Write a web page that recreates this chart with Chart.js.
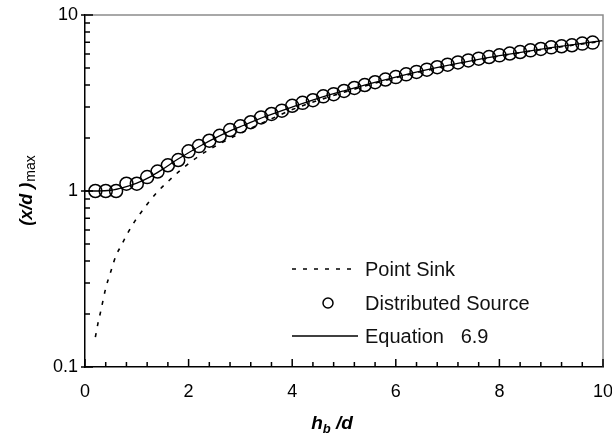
<!DOCTYPE html>
<html>
<head>
<meta charset="utf-8">
<script src="https://cdn.jsdelivr.net/npm/chart.js@4/dist/chart.umd.min.js"></script>
<style>
  html, body { margin:0; padding:0; background:#fff; }
  #wrap { width:612px; height:434px; }
</style>
</head>
<body>
<div id="wrap"><canvas id="chart" width="612" height="434"></canvas></div>
<script>
//-----------------Data
const xTicks = [0, 2, 4, 6, 8, 10]
const yTicks = [0.1, 1, 10]

// Point Sink (dotted)
const sinkX = [0.2, 0.25, 0.3, 0.4, 0.5, 0.6, 0.7, 0.8, 0.9, 1.0, 1.2, 1.4, 1.6, 1.8, 2.0, 2.2, 2.4, 2.8, 3.2, 3.6, 4.0, 5.0, 6.0, 7.0, 8.0, 9.0, 10.0]
const sinkY = [0.148, 0.177, 0.205, 0.28, 0.35, 0.43, 0.49, 0.56, 0.63, 0.70, 0.84, 0.99, 1.13, 1.28, 1.43, 1.58, 1.72, 1.99, 2.27, 2.57, 2.90, 3.64, 4.40, 5.14, 5.85, 6.48, 7.10]

// Distributed Source (open circles)
const srcX = [0.2, 0.4, 0.6, 0.8, 1.0, 1.2, 1.4, 1.6, 1.8, 2.0, 2.2, 2.4, 2.6, 2.8, 3.0, 3.2, 3.4, 3.6, 3.8, 4.0,
              4.2, 4.4, 4.6, 4.8, 5.0, 5.2, 5.4, 5.6, 5.8, 6.0, 6.2, 6.4, 6.6, 6.8, 7.0, 7.2, 7.4, 7.6, 7.8, 8.0,
              8.2, 8.4, 8.6, 8.8, 9.0, 9.2, 9.4, 9.6, 9.8]
const srcY = [1.00, 1.00, 1.00, 1.10, 1.10, 1.20, 1.29, 1.40, 1.50, 1.68, 1.80, 1.93, 2.06, 2.22, 2.33, 2.46, 2.62, 2.74, 2.86, 3.05,
              3.17, 3.28, 3.45, 3.55, 3.70, 3.85, 4.00, 4.15, 4.30, 4.44, 4.60, 4.75, 4.89, 5.05, 5.22, 5.38, 5.52, 5.65, 5.77, 5.90,
              6.04, 6.16, 6.30, 6.41, 6.55, 6.64, 6.73, 6.88, 6.97]

// Equation 6.9 (solid)
const eqX = [0, 0.25, 0.5, 0.75, 1.0, 1.25, 1.5, 1.75, 2.0, 2.25, 2.5, 2.75, 3.0, 3.5, 4.0, 4.5, 5.0, 5.5, 6.0, 6.5, 7.0, 7.5, 8.0, 8.5, 9.0, 9.5, 10]
const eqY = [1.00, 1.00, 1.01, 1.05, 1.11, 1.20, 1.33, 1.49, 1.65, 1.82, 1.99, 2.16, 2.32, 2.66, 3.00, 3.36, 3.71, 4.07, 4.44, 4.81, 5.17, 5.52, 5.87, 6.20, 6.52, 6.84, 7.15]

const legendLabels = ['Point Sink', 'Distributed Source', 'Equation   6.9']

function pts(xs, ys){
  return xs.map((x, i) => ({x: x, y: ys[i]}))
}

const FONT = '"Liberation Sans", Arial, sans-serif'

//-----------------Frame, inward ticks, titles, legend
const framePlugin = {
  id: 'frame',
  afterDraw(chart){
    const ctx = chart.ctx
    const a = chart.chartArea
    const xs = chart.scales.x
    const ys = chart.scales.y
    ctx.save()
    // grey top/right border
    ctx.strokeStyle = '#8c8c8c'
    ctx.lineWidth = 1.5
    ctx.beginPath()
    ctx.moveTo(a.left, a.top)
    ctx.lineTo(a.right, a.top)
    ctx.lineTo(a.right, a.bottom)
    ctx.stroke()

    // inward ticks
    ctx.strokeStyle = '#000'
    ctx.lineWidth = 1.5
    ctx.beginPath()
    for (let i = 0; i <= 25; i++){
      const px = xs.getPixelForValue(i * 0.4)
      const len = (i % 5 === 0) ? 8 : 5
      ctx.moveTo(px, a.bottom)
      ctx.lineTo(px, a.bottom - len)
    }
    for (let d = 0.1; d < 10; d *= 10){
      for (let k = 1; k <= 10; k++){
        const v = d * k
        if (v > 10.0001) continue
        const py = ys.getPixelForValue(v)
        const major = (k === 1 || k === 10)
        ctx.moveTo(a.left - (major ? 4 : 0), py)
        ctx.lineTo(a.left + (major ? 8 : 5), py)
      }
    }
    ctx.stroke()

    // y title: (x/d)max rotated
    ctx.fillStyle = '#000'
    ctx.textBaseline = 'alphabetic'
    const mainF = 'italic bold 18px ' + FONT
    const subF = '14px ' + FONT
    ctx.font = mainF
    const w1 = ctx.measureText('(x/d )').width
    ctx.font = subF
    const w2 = ctx.measureText('max').width
    ctx.translate(32, 191)
    ctx.rotate(-Math.PI / 2)
    const start = -(w1 + w2) / 2
    ctx.font = mainF
    ctx.textAlign = 'left'
    ctx.fillText('(x/d )', start, 0)
    ctx.font = subF
    ctx.fillText('max', start + w1 + 1, 3)
    ctx.setTransform(1, 0, 0, 1, 0, 0)

    // x title: h_b /d
    const hF = 'italic bold 19px ' + FONT
    const bF = 'italic bold 13px ' + FONT
    ctx.font = hF
    const wh = ctx.measureText('h').width
    const wd = ctx.measureText(' /d').width
    ctx.font = bF
    const wb = ctx.measureText('b').width
    let tx = 332 - (wh + wb + wd) / 2
    const ty = 429
    ctx.font = hF
    ctx.fillText('h', tx, ty)
    ctx.font = bF
    ctx.fillText('b', tx + wh, ty + 4)
    ctx.font = hF
    ctx.fillText(' /d', tx + wh + wb, ty)

    // legend
    ctx.font = '20px ' + FONT
    ctx.fillStyle = '#111'
    ctx.textBaseline = 'middle'
    ctx.textAlign = 'left'
    const rows = [269, 303, 336]
    ctx.strokeStyle = '#000'
    ctx.lineWidth = 1.5
    ctx.setLineDash([4, 7])
    ctx.beginPath()
    ctx.moveTo(292, rows[0])
    ctx.lineTo(356, rows[0])
    ctx.stroke()
    ctx.setLineDash([])
    ctx.beginPath()
    ctx.arc(328, rows[1], 5, 0, Math.PI * 2)
    ctx.stroke()
    ctx.beginPath()
    ctx.moveTo(292, rows[2])
    ctx.lineTo(358, rows[2])
    ctx.stroke()
    legendLabels.forEach((t, i) => ctx.fillText(t, 365, rows[i] + 1))
    ctx.restore()
  }
}

const ctx = document.getElementById('chart').getContext('2d')
const chart = new Chart(ctx, {
  type: 'scatter',
  data: {
    datasets: [
      {
        label: 'Distributed Source',
        data: pts(srcX, srcY),
        showLine: false,
        pointStyle: 'circle',
        pointRadius: 6.5,
        pointBorderWidth: 1.5,
        borderColor: '#000',
        backgroundColor: 'rgba(255,255,255,0)'
      },
      {
        label: 'Point Sink',
        data: pts(sinkX, sinkY),
        showLine: true,
        borderColor: '#000',
        borderWidth: 1.6,
        borderDash: [4, 7],
        pointRadius: 0,
        cubicInterpolationMode: 'monotone'
      },
      {
        label: 'Equation 6.9',
        data: pts(eqX, eqY),
        showLine: true,
        borderColor: '#000',
        borderWidth: 1.3,
        pointRadius: 0,
        cubicInterpolationMode: 'monotone'
      }
    ]
  },
  options: {
    responsive: false,
    animation: false,
    layout: { padding: { left: 0, top: 15, right: 9, bottom: 0 } },
    plugins: {
      legend: { display: false },
      tooltip: { enabled: false }
    },
    scales: {
      x: {
        type: 'linear',
        min: 0,
        max: 10,
        afterBuildTicks: s => { s.ticks = xTicks.map(v => ({value: v})) },
        afterFit: s => { s.height = 67; s.paddingLeft = 0; s.paddingRight = 0 },
        grid: { display: false, drawTicks: false },
        border: { display: true, color: '#000', width: 1.5 },
        ticks: { color: '#000', padding: 14, font: { family: FONT, size: 18 } }
      },
      y: {
        type: 'logarithmic',
        min: 0.1,
        max: 10,
        afterBuildTicks: s => { s.ticks = yTicks.map(v => ({value: v})) },
        afterFit: s => { s.width = 85; s.paddingTop = 0; s.paddingBottom = 0 },
        grid: { display: false, drawTicks: false },
        border: { display: true, color: '#000', width: 1.5 },
        ticks: {
          color: '#000',
          padding: 7,
          font: { family: FONT, size: 18 },
          callback: v => String(v)
        }
      }
    }
  },
  plugins: [framePlugin]
})
</script>
</body>
</html>
